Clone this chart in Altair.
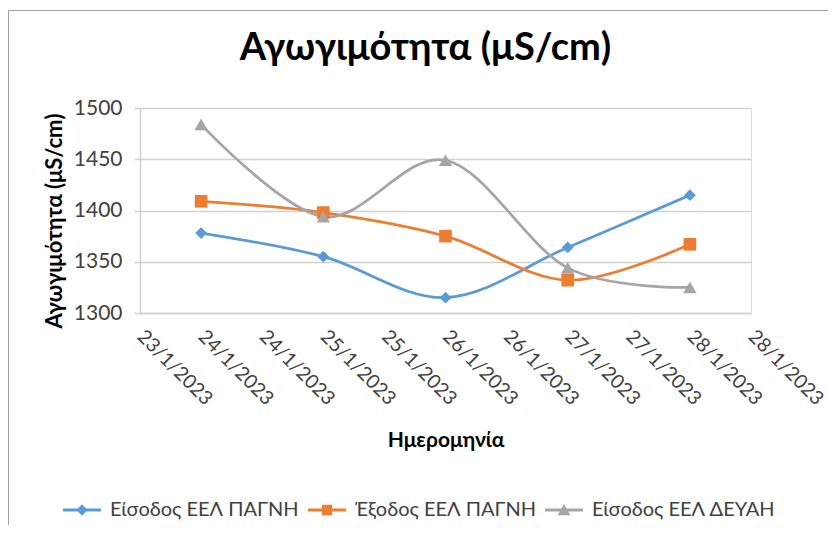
import altair as alt
import pandas as pd

# ---- data ----
dates = ["24/1/2023", "25/1/2023", "26/1/2023", "27/1/2023", "28/1/2023"]
series_names = ["Είσοδος ΕΕΛ ΠΑΓΝΗ", "Έξοδος ΕΕΛ ΠΑΓΝΗ", "Είσοδος ΕΕΛ ΔΕΥΑΗ"]
eisodos_pagni = [1378, 1355, 1315, 1364, 1415]
exodos_pagni = [1409, 1398, 1375, 1332, 1367]
eisodos_deyah = [1484, 1394, 1449, 1344, 1325]
y_ticks = [1300, 1350, 1400, 1450, 1500]
x_ticks = [23.5, 24, 24.5, 25, 25.5, 26, 26.5, 27, 27.5, 28, 28.5]

colors = ["#5B9BD5", "#ED7D31", "#A5A5A5"]
shapes = ["diamond", "square", "triangle-up"]
legend_paths = [
    "M-1,-0.08H1V0.08H-1Z M0,-0.3L0.3,0L0,0.3L-0.3,0Z",
    "M-1,-0.08H1V0.08H-1Z M-0.27,-0.27H0.27V0.27H-0.27Z",
    "M-1,-0.08H1V0.08H-1Z M0,-0.32L0.33,0.27H-0.33Z",
]

rows = []
for name, vals in zip(series_names, [eisodos_pagni, exodos_pagni, eisodos_deyah]):
    for d, v in zip(dates, vals):
        rows.append({"series": name, "date": d, "day": int(d.split("/")[0]), "value": v})
df = pd.DataFrame(rows)

FONT = "Lato, Open Sans, sans-serif"
W, H = 611, 205

x_enc = alt.X(
    "day:Q",
    scale=alt.Scale(domain=[23.5, 28.5], nice=False, zero=False),
    axis=alt.Axis(
        values=x_ticks,
        labelExpr="floor(datum.value) + '/1/2023'",
        labelAngle=45,
        labelAlign="left",
        labelBaseline="middle",
        labelPadding=20,
        labelFontSize=19.5,
        labelColor="#404040",
        labelFont=FONT,
        ticks=False,
        grid=False,
        domainColor="#D0D0D0",
        domainWidth=1.5,
        title="Ημερομηνία",
        titleFont=FONT,
        titleFontSize=21,
        titleFontWeight="bold",
        titleColor="#000000",
        titleX=W / 2,
        titleY=127,
        titleAlign="center",
        titleBaseline="middle",
        labelOverlap=False,
    ),
)
y_enc = alt.Y(
    "value:Q",
    scale=alt.Scale(domain=[1300, 1500], nice=False, zero=False),
    axis=alt.Axis(
        values=y_ticks,
        format="d",
        labelFontSize=21,
        labelColor="#404040",
        labelFont=FONT,
        labelPadding=12,
        tickSize=6,
        tickColor="#D0D0D0",
        tickWidth=1.5,
        domainColor="#D0D0D0",
        domainWidth=1.5,
        gridColor="#D0D0D0",
        gridWidth=1.5,
        title="Αγωγιμότητα (μS/cm)",
        titleFont=FONT,
        titleFontSize=22,
        titleFontWeight="bold",
        titleColor="#000000",
        titleX=-86,
        titleY=H / 2 + 10,
        titleAngle=-90,
        titleAlign="center",
        titleBaseline="middle",
    ),
)

base = alt.Chart(df)

frame = base.mark_rect(fill=None, stroke="#A0A0A0", strokeWidth=1).encode(
    x=alt.value(-131.5), x2=alt.value(W + 400), y=alt.value(-97.5), y2=alt.value(H + 400)
).transform_filter("datum.day == 24 && datum.series == '" + series_names[0] + "'")

layers = [frame]
for name, col in zip(series_names, colors):
    layers.append(
        base.transform_filter(alt.datum.series == name)
        .mark_line(interpolate="cardinal", strokeWidth=2.75, color=col)
        .encode(x=x_enc, y=y_enc, order="day:Q")
    )
for name, col, shp, size in zip(series_names, colors, shapes, [140, 160, 180]):
    layers.append(
        base.transform_filter(alt.datum.series == name)
        .mark_point(shape=shp, filled=True, size=size, opacity=1, color=col)
        .encode(x=alt.X("day:Q"), y=alt.Y("value:Q"))
    )

leg = dict(
    title=None, orient="none", legendX=-77, legendY=383, direction="horizontal",
    columns=3, labelFont=FONT, labelFontSize=20, labelColor="#404040",
    labelOffset=9, columnPadding=9, symbolStrokeWidth=0, labelLimit=400,
    symbolSize=1444,
)
legend_layer = base.transform_filter("datum.value < 0").mark_point(
    filled=True, size=1444, opacity=1
).encode(
    x=alt.X("day:Q"), y=alt.Y("value:Q"),
    color=alt.Color("series:N", scale=alt.Scale(domain=series_names, range=colors),
                    legend=alt.Legend(**leg)),
    shape=alt.Shape("series:N", scale=alt.Scale(domain=series_names, range=legend_paths),
                    legend=alt.Legend(**leg)),
)
layers.append(legend_layer)

chart = alt.layer(*layers).properties(
    width=W, height=H,
    title=alt.TitleParams(
        "Αγωγιμότητα (μS/cm)", font=FONT, fontSize=38, fontWeight="bold", color="#000000",
        anchor="middle", dx=-20, offset=-87.5, baseline="alphabetic",
    ),
    autosize=alt.AutoSizeParams(type="none"),
    padding={"left": 132, "top": 100, "right": 77, "bottom": 212},
).configure_view(stroke=None).configure(background="white")

chart.save("out.html", embed_options={"renderer": "svg", "actions": False})
